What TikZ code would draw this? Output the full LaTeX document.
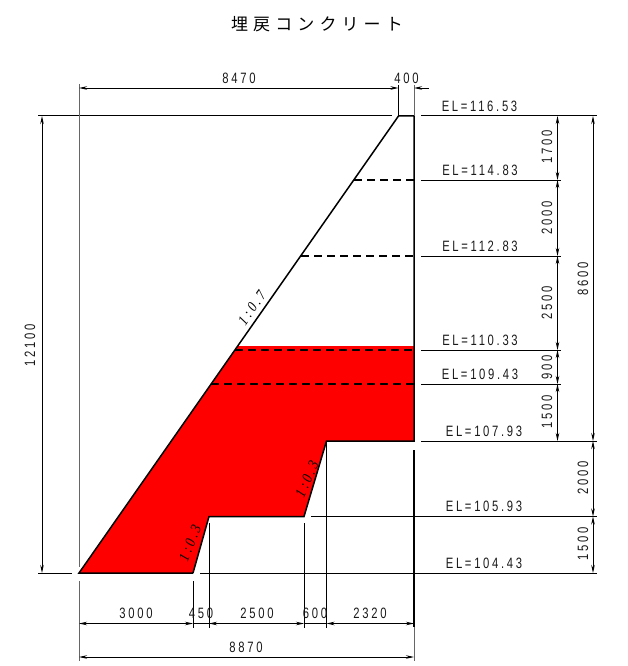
\documentclass[tikz,border=0pt]{standalone}
\usepackage{fontspec}
\usetikzlibrary{arrows.meta}
\newfontfamily\dimfont[LetterSpace=18,FakeStretch=0.75]{Liberation Sans}
\newfontfamily\slopefont[LetterSpace=18,FakeStretch=0.85]{Liberation Serif}
\newfontfamily\titlefont[LetterSpace=30]{Noto Sans CJK JP}
\tikzset{
    obj/.style={line width=1.5pt},
    thinl/.style={line width=1pt},
    ext/.style={line width=1pt, black!60},
    dim/.style={line width=0.9pt, {Stealth[length=8pt,width=3.5pt]}-{Stealth[length=8pt,width=3.5pt]}},
    dimr/.style={line width=0.9pt, {Stealth[length=8pt,width=3.5pt]}-},
    lab/.style={inner sep=0pt, black!90, font=\dimfont\fontsize{15}{15}\selectfont},
    slope/.style={inner sep=0pt, font=\slopefont\itshape\fontsize{15}{15}\selectfont},
}
\begin{document}
\begin{tikzpicture}[x=1pt,y=-1pt]
    \useasboundingbox (0,0) rectangle (627,666);
    \node[inner sep=0pt, font=\titlefont\fontsize{17}{17}\selectfont] (title) at (317,24) {埋戻コンクリート};

    % concrete
    \fill[red] (79,573) -- (193,573) -- (209,516.5) -- (304,516.5) -- (326.5,441) -- (414,441) -- (414,346) -- (238,346) -- cycle;

    % outline
    \draw[obj] (193,573) -- (79,573) -- (398.5,116) -- (414,116) -- (414,441) -- (326.5,441) -- (304,516.5) -- (209,516.5) -- (193,573);
    \draw[obj] (414,450) -- (414,627);

    % levels
    \foreach \yy/\xx in {180/354,256/301,350/235,384/211}
        \draw[obj, dash pattern=on 8pt off 5pt] (\xx,\yy) -- (414,\yy);
    \foreach \yy/\xe in {116/561,180/561,256/561,350/561,384/561,441/597}
        \draw[thinl] (421,\yy) -- (\xe,\yy);
    \draw[thinl] (311,516.5) -- (597,516.5);
    \draw[thinl] (200,573) -- (597,573);
    \draw[thinl] (38,573) -- (72,573);
    \draw[thinl] (38,116) -- (392,116);
    \draw[thinl] (561,116) -- (597,116);

    % extension lines
    \draw[ext] (79,84) -- (79,567);
    \draw[ext] (79,581) -- (79,661);
    \draw[thinl] (398.5,85) -- (398.5,116);
    \draw[ext] (414,85) -- (414,116);
    \draw[ext] (414,627) -- (414,661);
    \draw[thinl] (193,581) -- (193,628);
    \draw[thinl] (209,523) -- (209,628);
    \draw[thinl] (304,523) -- (304,628);
    \draw[thinl] (326.5,441) -- (326.5,628);

    % dimensions
    \draw[dim] (79,88) -- (398.5,88);
    \draw[dimr] (414,88) -- (429,88);
    \draw[dim] (42,116) -- (42,573);
    \draw[dim] (79,623.5) -- (193,623.5);
    \draw[line width=0.9pt] (193,623.5) -- (209,623.5);
    \draw[dim] (209,623.5) -- (304,623.5);
    \draw[line width=0.9pt] (304,623.5) -- (326.5,623.5);
    \draw[dim] (326.5,623.5) -- (414,623.5);
    \draw[dim] (79,657) -- (414,657);
    \foreach \ya/\yb in {116/180,180/256,256/350,350/384,384/441}
        \draw[dim] (557.5,\ya) -- (557.5,\yb);
    \foreach \ya/\yb in {116/441,441/516.5,516.5/573}
        \draw[dim] (593,\ya) -- (593,\yb);

    % texts
    \node[lab] (w8470) at (239,78) {8470};
    \node[lab] (w400) at (406.5,78) {400};
    \node[lab, rotate=90] (h12100) at (30,345) {12100};
    \node[lab] (w3000) at (136,613) {3000};
    \node[lab] (w450) at (201,613) {450};
    \node[lab] (w2500) at (257,613) {2500};
    \node[lab] (w600) at (315,613) {600};
    \node[lab] (w2320) at (370,613) {2320};
    \node[lab] (w8870) at (246,647) {8870};

    \node[lab, rotate=90] (h1700) at (547,147) {1700};
    \node[lab, rotate=90] (h2000a) at (547,218) {2000};
    \node[lab, rotate=90] (h2500) at (547,303) {2500};
    \node[lab, rotate=90] (h900) at (547,367) {900};
    \node[lab, rotate=90] (h1500a) at (547,412) {1500};
    \node[lab, rotate=90] (h8600) at (583,279) {8600};
    \node[lab, rotate=90] (h2000b) at (583,478) {2000};
    \node[lab, rotate=90] (h1500b) at (583,544) {1500};

    \node[lab] (el1) at (479.5,106) {EL=116.53};
    \node[lab] (el2) at (480,170) {EL=114.83};
    \node[lab] (el3) at (480,246) {EL=112.83};
    \node[lab] (el4) at (480,340) {EL=110.33};
    \node[lab] (el5) at (480,374) {EL=109.43};
    \node[lab] (el6) at (484,431) {EL=107.93};
    \node[lab] (el7) at (484,506) {EL=105.93};
    \node[lab] (el8) at (484,563) {EL=104.43};

    \node[slope, rotate=55] (s1) at (252,308) {1:0.7};
    \node[slope, rotate=66] (s2) at (307,479) {1:0.3};
    \node[slope, rotate=68] (s3) at (190,543) {1:0.3};
\end{tikzpicture}
\end{document}
